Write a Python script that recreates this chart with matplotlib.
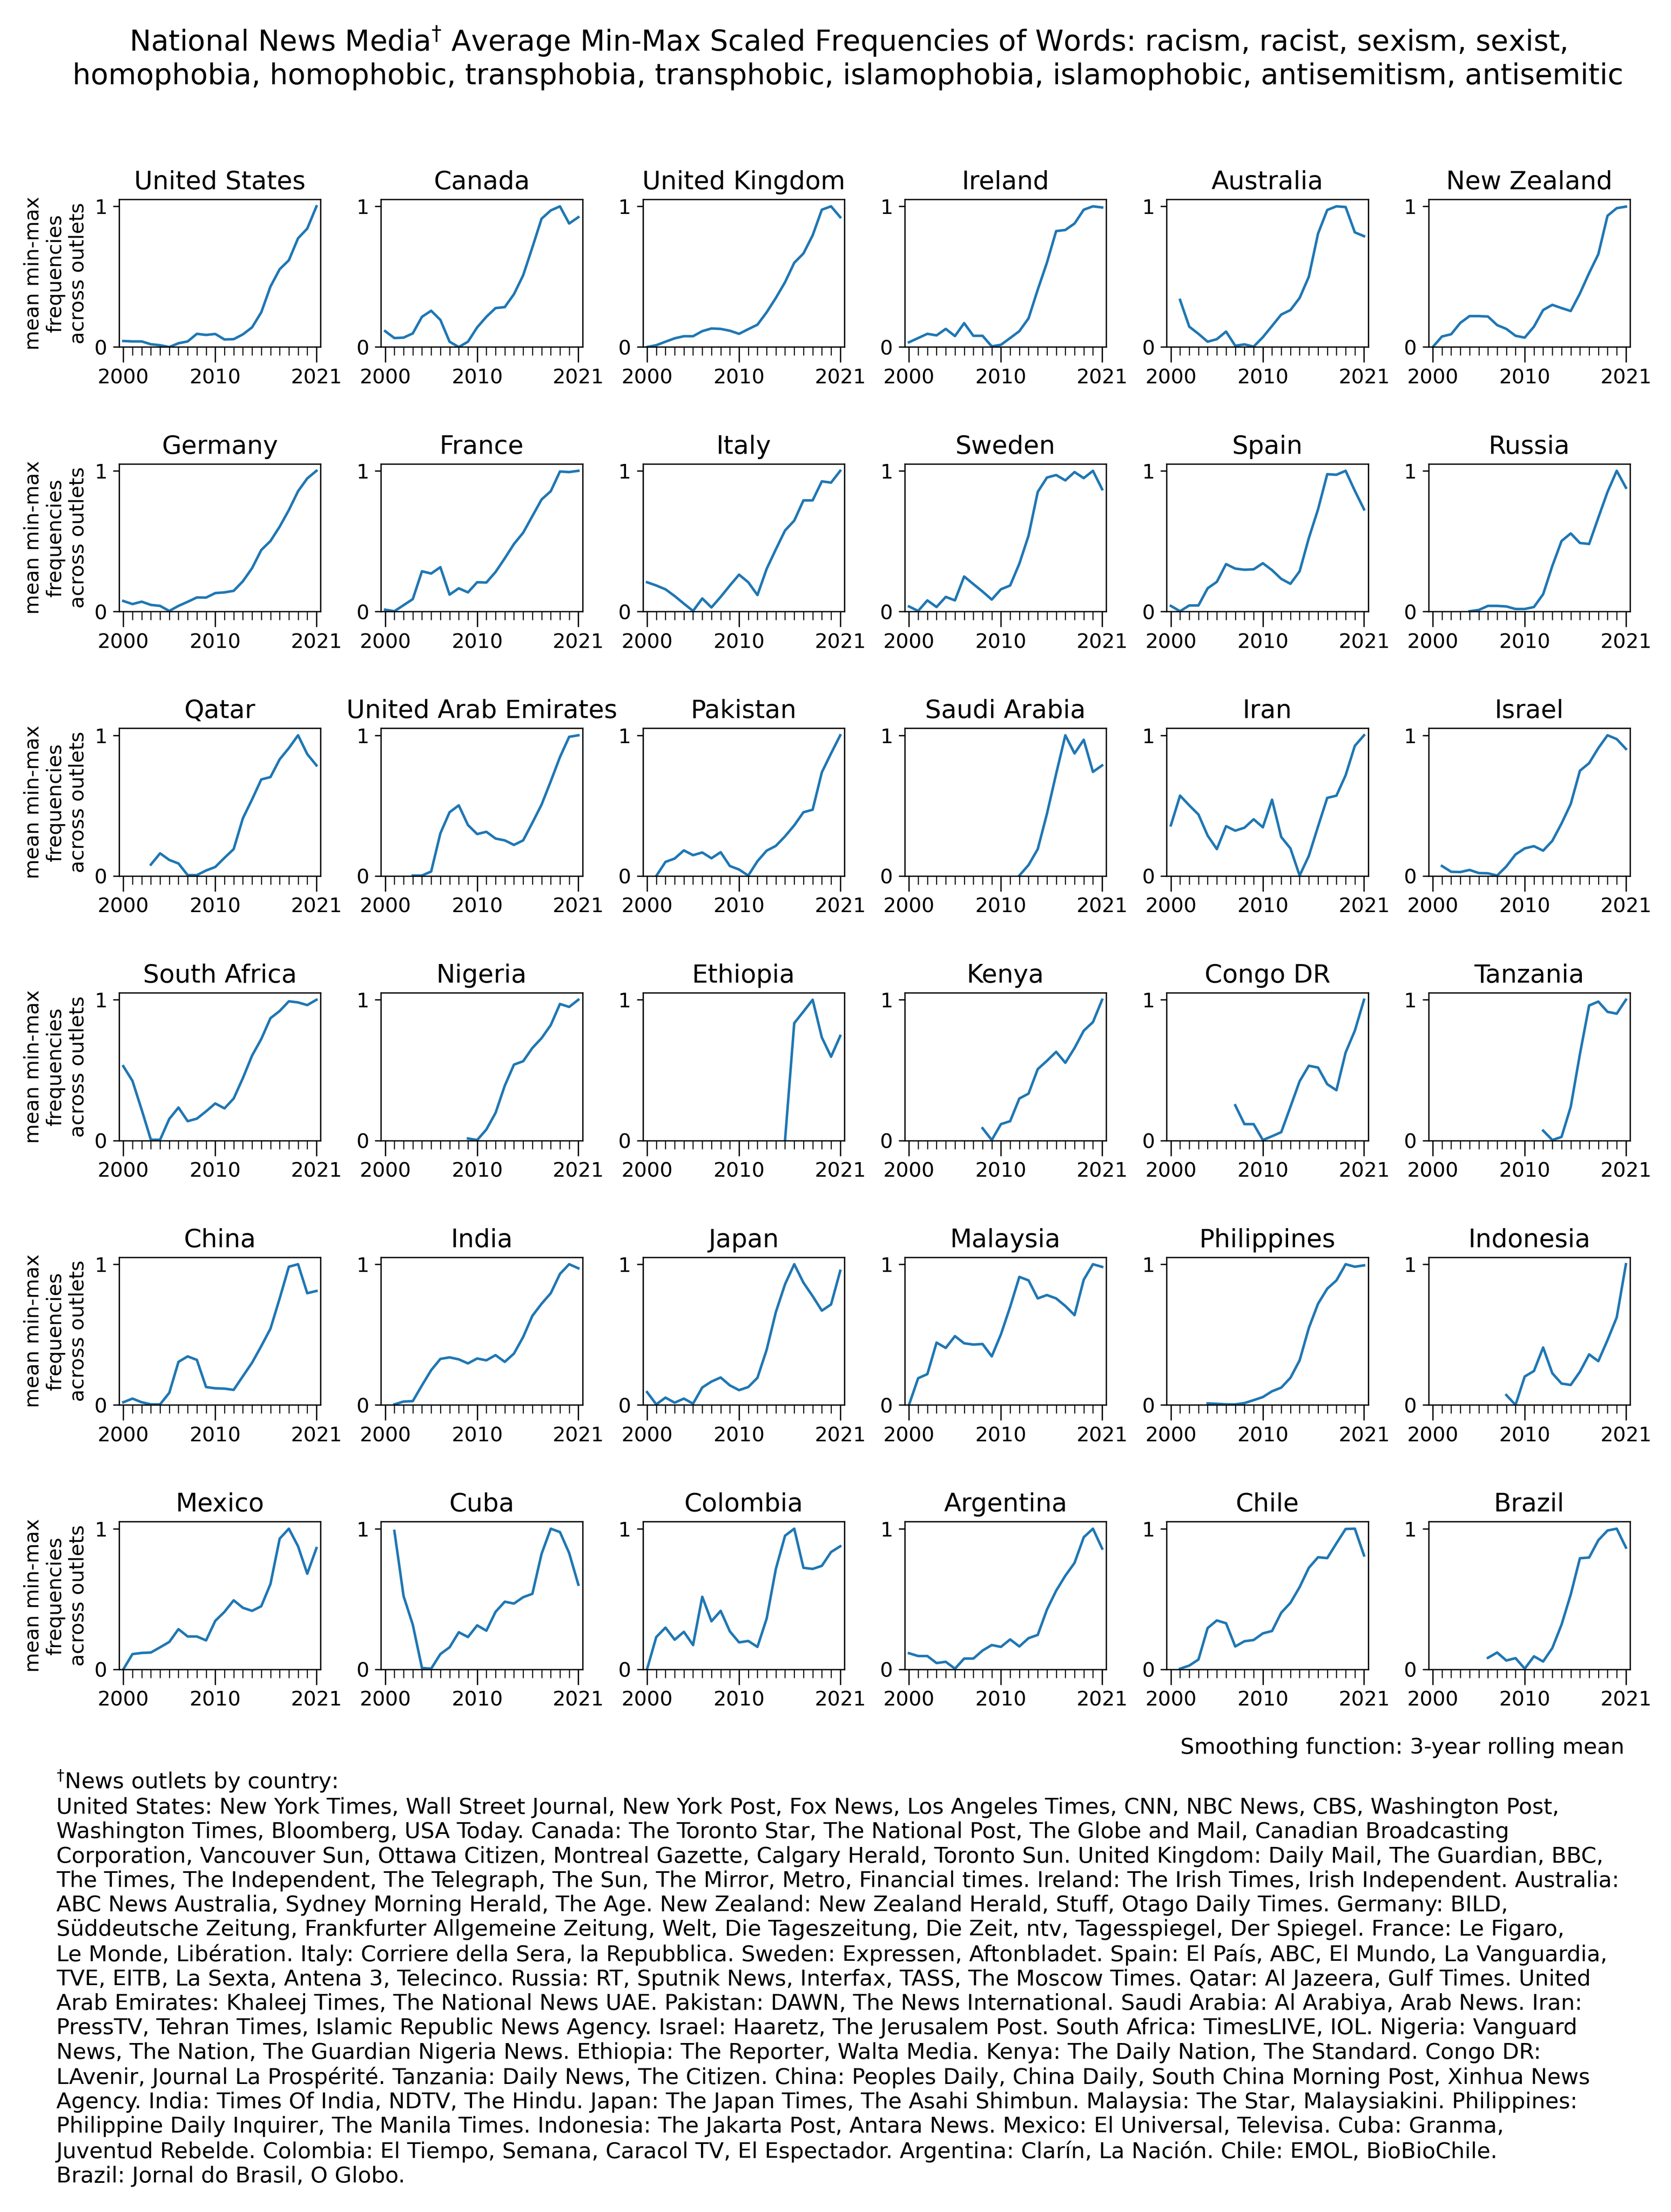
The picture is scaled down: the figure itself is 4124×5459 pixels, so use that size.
import numpy as np
import matplotlib
matplotlib.use("Agg")
import matplotlib.pyplot as plt
from matplotlib.ticker import MultipleLocator, FixedLocator

nan = np.nan
years = np.arange(2000, 2022)

countries = ["United States", "Canada", "United Kingdom", "Ireland", "Australia", "New Zealand",
             "Germany", "France", "Italy", "Sweden", "Spain", "Russia",
             "Qatar", "United Arab Emirates", "Pakistan", "Saudi Arabia", "Iran", "Israel",
             "South Africa", "Nigeria", "Ethiopia", "Kenya", "Congo DR", "Tanzania",
             "China", "India", "Japan", "Malaysia", "Philippines", "Indonesia",
             "Mexico", "Cuba", "Colombia", "Argentina", "Chile", "Brazil"]

# one value per year 2000..2021 (nan = no data)
united_states = [0.043, 0.04, 0.04, 0.02, 0.013, 0.0, 0.027, 0.04, 0.094, 0.086, 0.093, 0.054,
                 0.056, 0.09, 0.14, 0.247, 0.43, 0.553, 0.617, 0.773, 0.842, 1.0]
canada = [0.113, 0.064, 0.067, 0.097, 0.215, 0.258, 0.193, 0.038, 0.0, 0.038, 0.14, 0.215,
          0.277, 0.284, 0.376, 0.51, 0.708, 0.912, 0.971, 1.0, 0.878, 0.923]
united_kingdom = [0.0, 0.013, 0.038, 0.062, 0.077, 0.077, 0.113, 0.132, 0.129, 0.116, 0.094, 0.127,
                  0.159, 0.247, 0.349, 0.461, 0.599, 0.665, 0.794, 0.976, 1.0, 0.923]
ireland = [0.034, 0.064, 0.094, 0.083, 0.129, 0.078, 0.17, 0.08, 0.08, 0.005, 0.016, 0.064,
           0.113, 0.204, 0.408, 0.6, 0.824, 0.832, 0.878, 0.976, 1.0, 0.992]
australia = [nan, 0.335, 0.145, 0.094, 0.038, 0.056, 0.11, 0.009, 0.019, 0.003, 0.07, 0.15,
             0.231, 0.263, 0.349, 0.5, 0.806, 0.974, 1.0, 0.995, 0.815, 0.788]
new_zealand = [0.0, 0.075, 0.091, 0.172, 0.22, 0.22, 0.217, 0.156, 0.129, 0.08, 0.067, 0.145,
               0.263, 0.3, 0.277, 0.256, 0.381, 0.526, 0.66, 0.933, 0.987, 0.998]
germany = [0.075, 0.053, 0.07, 0.047, 0.04, 0.004, 0.04, 0.069, 0.1, 0.099, 0.131, 0.136,
           0.147, 0.215, 0.308, 0.437, 0.501, 0.603, 0.721, 0.855, 0.946, 1.0]
france = [0.013, 0.002, 0.045, 0.088, 0.286, 0.27, 0.315, 0.12, 0.165, 0.136, 0.208, 0.206,
          0.281, 0.378, 0.48, 0.56, 0.678, 0.796, 0.855, 0.995, 0.991, 1.0]
italy = [0.208, 0.185, 0.158, 0.11, 0.056, 0.004, 0.093, 0.029, 0.104, 0.185, 0.262, 0.208,
         0.117, 0.303, 0.442, 0.576, 0.646, 0.79, 0.79, 0.925, 0.916, 1.0]
sweden = [0.036, 0.004, 0.079, 0.032, 0.104, 0.079, 0.249, 0.195, 0.142, 0.085, 0.158, 0.185,
          0.34, 0.539, 0.85, 0.952, 0.97, 0.932, 0.991, 0.948, 1.0, 0.869]
spain = [0.04, 0.002, 0.043, 0.043, 0.165, 0.211, 0.337, 0.305, 0.297, 0.3, 0.343, 0.294,
         0.232, 0.197, 0.286, 0.522, 0.726, 0.976, 0.972, 1.0, 0.858, 0.726]
russia = [nan, nan, nan, nan, 0.002, 0.011, 0.04, 0.04, 0.036, 0.018, 0.018, 0.032,
          0.123, 0.324, 0.501, 0.555, 0.487, 0.48, 0.667, 0.85, 1.0, 0.88]
qatar = [nan, nan, nan, 0.081, 0.161, 0.114, 0.089, 0.006, 0.006, 0.039, 0.064, 0.129,
         0.191, 0.41, 0.544, 0.686, 0.703, 0.829, 0.909, 1.0, 0.866, 0.786]
uae = [nan, nan, nan, 0.003, 0.003, 0.032, 0.303, 0.453, 0.502, 0.362, 0.298, 0.314,
       0.266, 0.253, 0.221, 0.253, 0.378, 0.507, 0.673, 0.845, 0.989, 1.0]
pakistan = [nan, 0.0, 0.1, 0.124, 0.182, 0.148, 0.167, 0.126, 0.169, 0.071, 0.046, 0.003,
            0.105, 0.18, 0.214, 0.282, 0.36, 0.453, 0.471, 0.737, 0.871, 1.0]
saudi_arabia = [nan, nan, nan, nan, nan, nan, nan, nan, nan, nan, nan, nan,
                0.003, 0.078, 0.191, 0.442, 0.726, 1.0, 0.871, 0.968, 0.74, 0.786]
iran = [0.36, 0.571, 0.502, 0.437, 0.287, 0.191, 0.354, 0.322, 0.343, 0.403, 0.346, 0.542,
        0.277, 0.196, 0.003, 0.143, 0.352, 0.555, 0.571, 0.716, 0.925, 1.0]
israel = [nan, 0.071, 0.03, 0.028, 0.043, 0.021, 0.019, 0.003, 0.068, 0.153, 0.196, 0.212,
          0.18, 0.25, 0.373, 0.512, 0.748, 0.802, 0.909, 1.0, 0.973, 0.903]
south_africa = [0.528, 0.423, 0.218, 0.005, 0.005, 0.153, 0.234, 0.137, 0.155, 0.207, 0.263, 0.228,
                0.298, 0.443, 0.603, 0.721, 0.869, 0.92, 0.989, 0.981, 0.962, 1.0]
nigeria = [nan, nan, nan, nan, nan, nan, nan, nan, nan, 0.014, 0.003, 0.078,
           0.196, 0.389, 0.539, 0.563, 0.657, 0.727, 0.82, 0.97, 0.949, 1.0]
ethiopia = [nan, nan, nan, nan, nan, nan, nan, nan, nan, nan, nan, nan,
            nan, nan, nan, 0.003, 0.834, 0.916, 1.0, 0.732, 0.595, 0.743]
kenya = [nan, nan, nan, nan, nan, nan, nan, nan, 0.087, 0.003, 0.116, 0.137,
         0.298, 0.333, 0.507, 0.566, 0.63, 0.552, 0.657, 0.78, 0.841, 1.0]
congo_dr = [nan, nan, nan, nan, nan, nan, nan, 0.25, 0.116, 0.116, 0.003, 0.03,
            0.059, 0.239, 0.421, 0.531, 0.518, 0.4, 0.357, 0.625, 0.78, 1.0]
tanzania = [nan, nan, nan, nan, nan, nan, nan, nan, nan, nan, nan, nan,
            0.07, 0.003, 0.025, 0.239, 0.614, 0.959, 0.987, 0.914, 0.901, 1.0]
china = [0.019, 0.045, 0.019, 0.004, 0.004, 0.086, 0.306, 0.345, 0.32, 0.127, 0.118, 0.116,
         0.107, 0.204, 0.3, 0.418, 0.542, 0.757, 0.982, 1.0, 0.794, 0.81]
india = [nan, 0.004, 0.024, 0.027, 0.139, 0.247, 0.327, 0.338, 0.324, 0.295, 0.33, 0.317,
         0.354, 0.306, 0.365, 0.483, 0.633, 0.719, 0.794, 0.931, 1.0, 0.971]
japan = [0.091, 0.004, 0.052, 0.016, 0.045, 0.009, 0.124, 0.166, 0.195, 0.139, 0.105, 0.127,
         0.193, 0.392, 0.66, 0.858, 1.0, 0.869, 0.773, 0.67, 0.714, 0.953]
malaysia = [0.0, 0.19, 0.219, 0.443, 0.405, 0.489, 0.438, 0.429, 0.433, 0.345, 0.502, 0.697,
            0.91, 0.885, 0.757, 0.781, 0.757, 0.703, 0.638, 0.89, 1.0, 0.981]
philippines = [nan, nan, nan, nan, 0.011, 0.008, 0.004, 0.004, 0.013, 0.034, 0.056, 0.097,
               0.123, 0.193, 0.317, 0.547, 0.719, 0.826, 0.885, 1.0, 0.982, 0.992]
indonesia = [nan, nan, nan, nan, nan, nan, nan, nan, 0.07, 0.0, 0.202, 0.241,
             0.408, 0.225, 0.152, 0.142, 0.236, 0.359, 0.311, 0.461, 0.622, 1.0]
mexico = [0.0, 0.109, 0.117, 0.12, 0.157, 0.195, 0.286, 0.234, 0.234, 0.206, 0.345, 0.409,
          0.491, 0.438, 0.416, 0.449, 0.607, 0.929, 1.0, 0.875, 0.68, 0.862]
cuba = [nan, 0.984, 0.521, 0.318, 0.01, 0.005, 0.109, 0.157, 0.264, 0.23, 0.313, 0.275,
        0.409, 0.481, 0.468, 0.513, 0.537, 0.821, 1.0, 0.976, 0.827, 0.602]
colombia = [0.002, 0.23, 0.297, 0.211, 0.267, 0.173, 0.516, 0.342, 0.416, 0.27, 0.192, 0.202,
            0.16, 0.361, 0.714, 0.95, 1.0, 0.722, 0.714, 0.736, 0.834, 0.875]
argentina = [0.115, 0.095, 0.095, 0.045, 0.054, 0.005, 0.077, 0.077, 0.134, 0.173, 0.16, 0.213,
             0.163, 0.222, 0.245, 0.425, 0.559, 0.666, 0.757, 0.939, 1.0, 0.859]
chile = [nan, 0.005, 0.027, 0.07, 0.294, 0.348, 0.328, 0.163, 0.2, 0.209, 0.256, 0.273,
         0.403, 0.473, 0.585, 0.722, 0.797, 0.791, 0.896, 0.998, 1.0, 0.81]
brazil = [nan, nan, nan, nan, nan, nan, 0.082, 0.12, 0.063, 0.08, 0.005, 0.093,
          0.056, 0.152, 0.318, 0.532, 0.79, 0.795, 0.918, 0.987, 1.0, 0.866]

series = [united_states, canada, united_kingdom, ireland, australia, new_zealand,
          germany, france, italy, sweden, spain, russia,
          qatar, uae, pakistan, saudi_arabia, iran, israel,
          south_africa, nigeria, ethiopia, kenya, congo_dr, tanzania,
          china, india, japan, malaysia, philippines, indonesia,
          mexico, cuba, colombia, argentina, chile, brazil]

title = ("National News Media$^{\\dagger}$ Average Min-Max Scaled Frequencies of Words: racism, racist, sexism, sexist,\n"
         "homophobia, homophobic, transphobia, transphobic, islamophobia, islamophobic, antisemitism, antisemitic")

footnote = "\n".join([
    "$^{\\dagger}$News outlets by country:",
    "United States: New York Times, Wall Street Journal, New York Post, Fox News, Los Angeles Times, CNN, NBC News, CBS, Washington Post,",
    "Washington Times, Bloomberg, USA Today. Canada: The Toronto Star, The National Post, The Globe and Mail, Canadian Broadcasting",
    "Corporation, Vancouver Sun, Ottawa Citizen, Montreal Gazette, Calgary Herald, Toronto Sun. United Kingdom: Daily Mail, The Guardian, BBC,",
    "The Times, The Independent, The Telegraph, The Sun, The Mirror, Metro, Financial times. Ireland: The Irish Times, Irish Independent. Australia:",
    "ABC News Australia, Sydney Morning Herald, The Age. New Zealand: New Zealand Herald, Stuff, Otago Daily Times. Germany: BILD,",
    "Süddeutsche Zeitung, Frankfurter Allgemeine Zeitung, Welt, Die Tageszeitung, Die Zeit, ntv, Tagesspiegel, Der Spiegel. France: Le Figaro,",
    "Le Monde, Libération. Italy: Corriere della Sera, la Repubblica. Sweden: Expressen, Aftonbladet. Spain: El País, ABC, El Mundo, La Vanguardia,",
    "TVE, EITB, La Sexta, Antena 3, Telecinco. Russia: RT, Sputnik News, Interfax, TASS, The Moscow Times. Qatar: Al Jazeera, Gulf Times. United",
    "Arab Emirates: Khaleej Times, The National News UAE. Pakistan: DAWN, The News International. Saudi Arabia: Al Arabiya, Arab News. Iran:",
    "PressTV, Tehran Times, Islamic Republic News Agency. Israel: Haaretz, The Jerusalem Post. South Africa: TimesLIVE, IOL. Nigeria: Vanguard",
    "News, The Nation, The Guardian Nigeria News. Ethiopia: The Reporter, Walta Media. Kenya: The Daily Nation, The Standard. Congo DR:",
    "LAvenir, Journal La Prospérité. Tanzania: Daily News, The Citizen. China: Peoples Daily, China Daily, South China Morning Post, Xinhua News",
    "Agency. India: Times Of India, NDTV, The Hindu. Japan: The Japan Times, The Asahi Shimbun. Malaysia: The Star, Malaysiakini. Philippines:",
    "Philippine Daily Inquirer, The Manila Times. Indonesia: The Jakarta Post, Antara News. Mexico: El Universal, Televisa. Cuba: Granma,",
    "Juventud Rebelde. Colombia: El Tiempo, Semana, Caracol TV, El Espectador. Argentina: Clarín, La Nación. Chile: EMOL, BioBioChile.",
    "Brazil: Jornal do Brasil, O Globo.",
])

plt.rcParams['font.size'] = 12

fig, axes = plt.subplots(6, 6, figsize=(4124 / 300, 5459 / 300), dpi=300)
fig.subplots_adjust(left=0.0713, right=0.9755, top=0.9099, bottom=0.2453, wspace=0.30, hspace=0.79)

for i, ax in enumerate(axes.flat):
    ax.plot(years, series[i], color='#1f77b4', lw=1.5)
    ax.set_title(countries[i], fontsize=15)
    ax.set_xlim(1999.55, 2021.45)
    ax.set_ylim(0, 1.05)
    ax.xaxis.set_major_locator(FixedLocator([2000, 2010, 2021]))
    ax.xaxis.set_minor_locator(MultipleLocator(1))
    ax.set_xticklabels(['2000', '2010', '2021'])
    ax.set_yticks([0, 1])
    ax.set_yticklabels(['0', '1'])
    ax.tick_params(axis='x', which='major', length=9)
    ax.tick_params(axis='x', which='minor', length=5)
    if i % 6 == 0:
        ax.set_ylabel("mean min-max\nfrequencies\nacross outlets")

fig.suptitle(title, x=0.5075, y=0.974, va='center', fontsize=17)
fig.text(0.972, 0.210, "Smoothing function: 3-year rolling mean", ha='right', va='center', fontsize=13)
fig.text(0.0337, 0.2005, footnote, ha='left', va='top', fontsize=13)

fig.savefig("out.png", dpi=300)
